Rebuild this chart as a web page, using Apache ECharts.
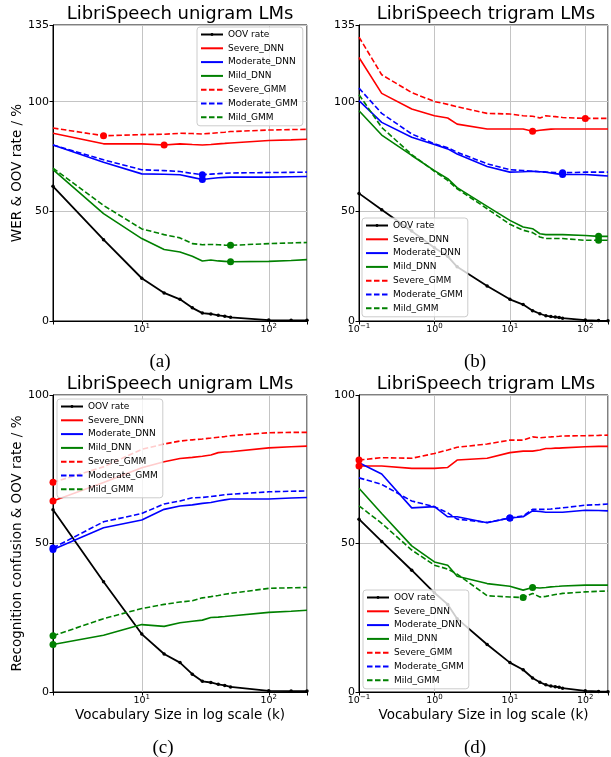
<!DOCTYPE html>
<html><head><meta charset="utf-8">
<script src="https://cdn.jsdelivr.net/npm/echarts@6/dist/echarts.min.js"></script>
<style>html,body{margin:0;padding:0;background:#fff}#c{width:611px;height:757px}</style>
</head><body><div id="c"></div>
<script>
// ---------- data ----------
const seriesNames = ['OOV rate','Severe_DNN','Moderate_DNN','Mild_DNN','Severe_GMM','Moderate_GMM','Mild_GMM'];
const xUni = [2,5,10,15,20,25,30,35,40,45,50,100,150,200];
const xTri = [0.1,0.2,0.5,1,1.5,2,5,10,15,20,25,30,35,40,45,50,100,150,200];

const oovUni = [61.4,37.1,19.5,12.8,9.9,6.0,3.6,3.2,2.6,2.2,1.7,0.4,0.3,0.3];
const oovTri = [58.2,50.7,41.0,33.4,29.5,24.7,16.0,9.9,7.5,4.7,3.3,2.4,2.0,1.8,1.6,1.3,0.4,0.2,0.1];

// (a) unigram WER
const sevDnnA = [85.6,80.8,80.8,80.3,80.8,80.5,80.3,80.5,80.8,81.0,81.2,82.3,82.6,82.9];
const modDnnA = [80.3,72.4,67.1,66.9,66.7,65.5,64.5,65.0,65.3,65.5,65.6,65.6,65.8,65.9];
const mildDnnA = [69.0,49.0,37.6,32.6,31.5,29.5,27.4,27.8,27.4,27.2,27.0,27.2,27.6,28.0];
const sevGmmA = [88.0,84.5,85.0,85.2,85.6,85.5,85.3,85.6,85.9,86.1,86.4,87.1,87.3,87.4];
const modGmmA = [80.3,73.5,69.0,68.6,68.2,67.3,66.7,67.0,67.2,67.4,67.5,67.7,67.8,67.9];
const mildGmmA = [69.7,52.7,42.0,39.4,37.9,35.3,34.8,34.9,34.8,34.6,34.5,35.3,35.6,35.8];
const bestA = [15,30,50,5,30,50];

// (b) trigram WER
const sevDnnB = [120.2,103.8,96.7,93.6,92.6,89.8,87.6,87.6,87.6,86.5,87.0,87.3,87.5,87.6,87.6,87.6,87.6,87.6,87.6];
const modDnnB = [100.5,90.6,83.8,80.5,78.5,76.2,70.5,67.9,68.1,68.3,68.1,67.9,67.5,67.2,67.0,66.8,66.8,66.4,66.1];
const mildDnnB = [95.9,84.8,75.5,68.6,64.9,60.8,52.3,45.9,42.9,42.1,39.8,39.4,39.4,39.4,39.4,39.4,39.0,38.6,38.6];
const sevGmmB = [129.5,112.3,104.2,100.1,98.8,97.7,94.7,94.4,93.6,93.4,92.6,93.6,93.4,93.2,93.0,92.8,92.4,92.4,92.4];
const modGmmB = [106.2,94.7,85.3,80.8,79.0,77.0,71.7,69.0,68.6,68.3,68.1,67.9,67.8,67.7,67.6,67.6,67.9,67.9,67.9];
const mildGmmB = [103.2,88.3,75.9,68.3,64.1,60.3,51.2,44.1,41.4,40.3,38.3,37.6,37.6,37.6,37.6,37.6,36.8,36.8,36.8];
const bestB = [20,50,150,100,50,150];

// (c) unigram confusion
const sevDnnC = [64.3,70.5,75.5,77.5,78.6,79.0,79.4,79.8,80.6,80.8,80.9,82.2,82.6,82.8];
const modDnnC = [48.0,55.3,57.9,61.5,62.6,63.0,63.5,63.8,64.3,64.7,65.0,65.0,65.3,65.5];
const mildDnnC = [16.0,19.1,22.7,22.1,23.3,23.8,24.2,25.1,25.2,25.4,25.6,26.8,27.2,27.5];
const sevGmmC = [70.6,75.8,81.7,83.5,84.5,84.9,85.2,85.5,85.8,86.0,86.3,87.3,87.4,87.4];
const modGmmC = [48.5,57.3,60.1,63.3,64.3,65.4,65.5,65.8,66.1,66.4,66.6,67.4,67.6,67.7];
const mildGmmC = [18.9,24.7,28.1,29.5,30.3,30.7,31.7,32.1,32.5,32.9,33.2,34.9,35.1,35.2];
const bestC = [2,2,2,2,2,2];

// (d) trigram confusion
const sevDnnD = [76.1,76.1,75.3,75.3,75.6,78.1,78.7,80.6,81.1,81.1,81.5,82.0,82.0,82.1,82.1,82.2,82.6,82.7,82.7];
const modDnnD = [77.2,73.4,62.0,62.4,59.0,59.0,57.0,58.6,59.0,61.0,60.8,60.5,60.5,60.5,60.5,60.5,61.2,61.1,61.0];
const mildDnnD = [68.6,60.1,49.2,43.8,42.7,39.0,36.5,35.6,34.3,35.2,35.0,35.2,35.4,35.5,35.6,35.7,36.0,36.0,36.0];
const sevGmmD = [78.1,78.9,78.7,80.3,81.5,82.4,83.5,84.8,84.8,85.9,85.6,85.8,85.9,86.0,86.1,86.2,86.3,86.4,86.5];
const modGmmD = [72.1,69.9,64.3,62.4,60.3,58.2,57.1,58.6,59.3,61.5,61.5,61.5,61.6,61.8,61.9,62.0,62.9,63.1,63.3];
const mildGmmD = [62.7,56.8,47.8,42.7,41.4,39.7,32.4,32.0,31.8,33.2,32.0,32.2,32.5,32.8,33.0,33.2,33.7,33.9,34.0];
const bestD = [0.1,10,20,0.1,10,15];

const titles = ['LibriSpeech unigram LMs','LibriSpeech trigram LMs','LibriSpeech unigram LMs','LibriSpeech trigram LMs'];
const captions = ['(a)','(b)','(c)','(d)'];
const yNames = ['WER & OOV rate / %','','Recognition confusion & OOV rate / %',''];
const xName = 'Vocabulary Size in log scale (k)';
const yMax = [135,135,100,100];
const xMin = [2,0.1,2,0.1];
const xMax = [200,200,200,200];

// ---------- styling / layout ----------
const FONT = 'DejaVu Sans';
const lineColors = ['#000000','#ff0000','#0000ff','#008000','#ff0000','#0000ff','#008000'];
const dashedFlag = [false,false,false,false,true,true,true];
const panels = [
  {x:xUni, oov:oovUni, vals:[sevDnnA,modDnnA,mildDnnA,sevGmmA,modGmmA,mildGmmA], best:bestA},
  {x:xTri, oov:oovTri, vals:[sevDnnB,modDnnB,mildDnnB,sevGmmB,modGmmB,mildGmmB], best:bestB},
  {x:xUni, oov:oovUni, vals:[sevDnnC,modDnnC,mildDnnC,sevGmmC,modGmmC,mildGmmC], best:bestC},
  {x:xTri, oov:oovTri, vals:[sevDnnD,modDnnD,mildDnnD,sevGmmD,modGmmD,mildGmmD], best:bestD}
];
const gridPos = [
  {left:53, top:25, width:254, height:296},
  {left:359, top:25, width:254, height:296},
  {left:53, top:395, width:254, height:297},
  {left:359, top:395, width:254, height:297}
];
const legendPos = [{left:197, top:27},{left:362, top:218},{left:57, top:399},{left:363, top:590}];
const titleCenter = [[180,14],[486,14],[180,384],[486,384]];
const captionPos = [[160,362],[475,362],[163,748],[475,748]];

function powLabel(v){
  const e = Math.log10(v); const r = Math.round(e);
  if (Math.abs(e - r) > 1e-6) return '';
  const s = r < 0 ? '\u2212' + (-r) : String(r);
  return '{b|10}{s|' + s + '}';
}

const legendData = seriesNames.map((n, i) => i === 0
  ? {name:n}
  : {name:n, itemStyle:{opacity:0}});

const grid = gridPos.map(g => Object.assign({show:true, borderColor:'#000', borderWidth:1, backgroundColor:'#fff', containLabel:false}, g));
const xAxis = [], yAxis = [], series = [], legend = [], graphic = [];

for (let p = 0; p < 4; p++){
  xAxis.push({
    gridIndex:p, type:'log', logBase:10, min:xMin[p], max:xMax[p],
    name: p >= 2 ? xName : '', nameLocation:'middle', nameGap:16,
    nameTextStyle:{fontFamily:FONT, fontSize:13.5, color:'#000'},
    axisLine:{show:true, lineStyle:{color:'#000', width:1}},
    axisTick:{show:true, length:3.5, lineStyle:{color:'#000'}},
    splitLine:{show:true, lineStyle:{color:'#c4c4c4', width:1}},
    axisLabel:{formatter:powLabel, margin:2, color:'#000',
      rich:{b:{fontFamily:FONT, fontSize:9.5, color:'#000', verticalAlign:'bottom', lineHeight:12},
            s:{fontFamily:FONT, fontSize:7, color:'#000', verticalAlign:'top', lineHeight:8}}}
  });
  yAxis.push({
    gridIndex:p, type:'value', min:0, max:yMax[p], interval:50,
    name:yNames[p], nameLocation:'middle', nameGap:28,
    nameTextStyle:{fontFamily:FONT, fontSize:13.5, color:'#000'},
    axisLine:{show:true, lineStyle:{color:'#000', width:1}},
    axisTick:{show:true, length:3.5, lineStyle:{color:'#000'}},
    splitLine:{show:true, lineStyle:{color:'#c4c4c4', width:1}},
    axisLabel:{fontFamily:FONT, fontSize:11, color:'#000', margin:4, showMaxLabel:true}
  });
  const P = panels[p];
  series.push({
    type:'line', name:seriesNames[0], xAxisIndex:p, yAxisIndex:p,
    data:P.x.map((xv,i)=>[xv, P.oov[i]]),
    symbol:'circle', symbolSize:3.5, clip:false, silent:true,
    lineStyle:{color:'#000', width:1.8}, itemStyle:{color:'#000'},
    emphasis:{disabled:true}
  });
  for (let k = 0; k < 6; k++){
    const vals = P.vals[k];
    series.push({
      type:'line', name:seriesNames[k+1], xAxisIndex:p, yAxisIndex:p,
      data:P.x.map((xv,i)=> xv === P.best[k] ? {value:[xv, vals[i]], symbol:'circle', symbolSize:7} : [xv, vals[i]]),
      symbol:'none', clip:false, silent:true,
      lineStyle:{color:lineColors[k+1], width:1.6, type: dashedFlag[k+1] ? [5.5,2.5] : 'solid'},
      itemStyle:{color:lineColors[k+1]},
      emphasis:{disabled:true}
    });
  }
  legend.push(Object.assign({
    orient:'vertical', itemWidth:22, itemHeight:3.5, itemGap:2.8, padding:[2,5,3,3],
    textStyle:{fontFamily:FONT, fontSize:9, lineHeight:11, color:'#000'},
    backgroundColor:'rgba(255,255,255,0.8)', borderColor:'#cccccc', borderWidth:1, borderRadius:3,
    selectedMode:false, data:legendData
  }, legendPos[p]));
  graphic.push({type:'text', x:titleCenter[p][0], y:titleCenter[p][1], z:10,
    style:{text:titles[p], fill:'#000', font:'18px "DejaVu Sans"', align:'center', verticalAlign:'middle'}});
  graphic.push({type:'text', x:captionPos[p][0], y:captionPos[p][1], z:10,
    style:{text:captions[p], fill:'#000', font:'19px "Liberation Serif"', align:'center', verticalAlign:'middle'}});
}

const chart = echarts.init(document.getElementById('c'), null, {renderer:'canvas'});
chart.setOption({animation:false, backgroundColor:'#fff', grid, xAxis, yAxis, series, legend, graphic});
</script></body></html>
